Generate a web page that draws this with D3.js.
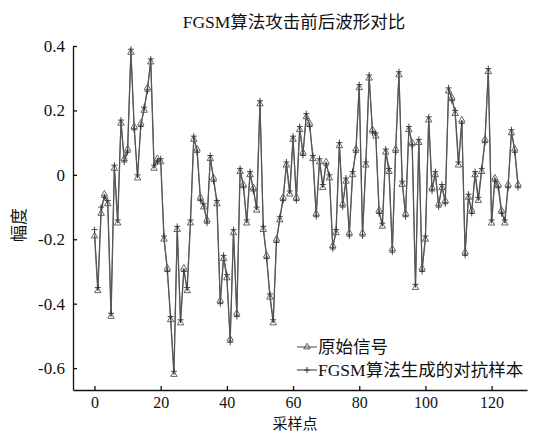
<!DOCTYPE html>
<html>
<head>
<meta charset="utf-8">
<script src="https://cdn.jsdelivr.net/npm/d3@7"></script>
<style>
  body { margin: 0; background: #fff; }
  svg { display: block; }
  text { font-family: "Liberation Serif", "Noto Sans CJK SC", serif; fill: #111; }
</style>
</head>
<body>
<div id="chart"></div>
<script>
const title = 'FGSM算法攻击前后波形对比';
const xLabel = '采样点';
const yLabel = '幅度';
const seriesNames = ['原始信号', 'FGSM算法生成的对抗样本'];
const xTicks = [0, 20, 40, 60, 80, 100, 120];
const yTicks = [0.4, 0.2, 0, -0.2, -0.4, -0.6];

// amplitude, one value per sample
const original = [
  -0.19, -0.36, -0.12, -0.06, -0.09, -0.44, 0.02, -0.15, 0.16, 0.05,
  0.08, 0.38, 0.15, -0.01, 0.16, 0.20, 0.27, 0.35, 0.02, 0.05,
  0.04, -0.20, -0.29, -0.45, -0.62, -0.17, -0.46, -0.29, -0.36, -0.15,
  0.11, 0.08, -0.07, -0.10, -0.14, 0.05, -0.01, -0.09, -0.39, -0.26,
  -0.32, -0.51, -0.18, -0.43, 0.01, -0.03, -0.15, 0.00, -0.04, -0.11,
  0.22, -0.17, -0.25, -0.38, -0.46, -0.20, -0.14, -0.07, 0.03, -0.06,
  0.11, -0.07, 0.14, 0.07, 0.18, 0.16, 0.05, -0.12, 0.04, -0.04,
  0.04, -0.01, -0.22, -0.18, 0.09, -0.09, -0.02, -0.18, 0.00, 0.08,
  0.27, -0.18, 0.03, 0.30, 0.14, 0.12, -0.11, -0.16, 0.07, 0.01,
  -0.23, 0.08, 0.31, -0.03, -0.12, 0.14, 0.10, -0.35, 0.10, -0.29,
  -0.20, 0.17, -0.04, 0.00, -0.09, -0.04, -0.08, 0.26, 0.24, 0.19,
  0.03, 0.17, -0.24, -0.07, -0.11, 0.00, -0.08, 0.01, 0.11, 0.32,
  -0.15, -0.01, -0.03, -0.11, -0.15, -0.03, 0.13, 0.08, -0.03
];

const adversarial = [
  -0.17, -0.35, -0.10, -0.07, -0.08, -0.43, 0.03, -0.14, 0.17, 0.04,
  0.07, 0.39, 0.14, 0.00, 0.15, 0.21, 0.26, 0.36, 0.03, 0.04,
  0.05, -0.19, -0.30, -0.44, -0.61, -0.16, -0.45, -0.30, -0.35, -0.14,
  0.12, 0.07, -0.08, -0.09, -0.15, 0.06, -0.02, -0.08, -0.40, -0.25,
  -0.31, -0.52, -0.17, -0.44, 0.02, -0.04, -0.14, 0.01, -0.05, -0.10,
  0.23, -0.16, -0.26, -0.37, -0.45, -0.21, -0.13, -0.08, 0.04, -0.05,
  0.12, -0.08, 0.15, 0.06, 0.19, 0.15, 0.06, -0.13, 0.05, -0.03,
  0.03, 0.00, -0.23, -0.17, 0.10, -0.10, -0.01, -0.19, 0.01, 0.07,
  0.28, -0.19, 0.04, 0.31, 0.13, 0.13, -0.12, -0.15, 0.08, 0.02,
  -0.24, 0.07, 0.32, -0.02, -0.13, 0.15, 0.09, -0.34, 0.11, -0.30,
  -0.19, 0.18, -0.05, 0.01, -0.10, -0.03, -0.09, 0.27, 0.23, 0.20,
  0.04, 0.16, -0.25, -0.06, -0.12, 0.01, -0.07, 0.02, 0.10, 0.33,
  -0.14, -0.02, -0.04, -0.12, -0.14, -0.04, 0.14, 0.07, -0.04
];

const width = 541;
const height = 433;
const margin = { left: 73, right: 527, top: 46, bottom: 390 };

const svg = d3.select('#chart')
  .append('svg')
  .attr('width', width)
  .attr('height', height);

const x = d3.scaleLinear().domain([-6.5, 130.7]).range([margin.left, margin.right]);
const y = d3.scaleLinear().domain([-0.668, 0.4]).range([margin.bottom, margin.top]);

svg.append('text')
  .attr('x', 294)
  .attr('y', 28)
  .attr('text-anchor', 'middle')
  .style('font-size', '17.5px')
  .text(title);

const fmt = d => (d === 0 ? '0' : d.toFixed(1));

svg.append('g')
  .attr('transform', `translate(0, ${margin.bottom})`)
  .call(d3.axisBottom(x).tickValues(xTicks).tickSizeInner(-4).tickSizeOuter(0).tickPadding(7))
  .call(g => g.selectAll('path, line').attr('stroke', '#111').attr('stroke-width', 1.3))
  .call(g => g.selectAll('.tick text').attr('fill', '#111')
    .style('font-family', '"Liberation Serif", serif').style('font-size', '16px'));

svg.append('g')
  .attr('transform', `translate(${margin.left}, 0)`)
  .call(d3.axisLeft(y).tickValues(yTicks).tickFormat(fmt).tickSizeInner(-4).tickSizeOuter(0).tickPadding(8))
  .call(g => g.selectAll('path, line').attr('stroke', '#111').attr('stroke-width', 1.3))
  .call(g => g.selectAll('.tick text').attr('fill', '#111')
    .style('font-family', '"Liberation Serif", serif').style('font-size', '17px'));

svg.append('text')
  .attr('x', 295)
  .attr('y', 429)
  .attr('text-anchor', 'middle')
  .style('font-size', '15px')
  .text(xLabel);

svg.append('text')
  .attr('transform', 'translate(25, 225) rotate(-90)')
  .attr('text-anchor', 'middle')
  .style('font-size', '17px')
  .text(yLabel);

const line = d3.line().x((d, i) => x(i)).y(d => y(d));

const triangle = d3.symbol().type(d3.symbolTriangle).size(18);

const plot = svg.append('g');

plot.append('path')
  .datum(original)
  .attr('fill', 'none')
  .attr('stroke', '#666')
  .attr('stroke-width', 1.3)
  .attr('d', line);

plot.append('path')
  .datum(adversarial)
  .attr('fill', 'none')
  .attr('stroke', '#555')
  .attr('stroke-width', 1)
  .attr('d', line);

plot.selectAll('.tri')
  .data(original)
  .join('path')
  .attr('class', 'tri')
  .attr('transform', (d, i) => `translate(${x(i)}, ${y(d)})`)
  .attr('d', triangle)
  .attr('fill', 'none')
  .attr('stroke', '#555')
  .attr('stroke-width', 0.9);

plot.selectAll('.plus')
  .data(adversarial)
  .join('path')
  .attr('class', 'plus')
  .attr('transform', (d, i) => `translate(${x(i)}, ${y(d)})`)
  .attr('d', 'M-3,0H3M0,-3V3')
  .attr('stroke', '#333')
  .attr('stroke-width', 0.9);

// legend
const legend = svg.append('g').attr('transform', 'translate(297, 347)');

legend.append('line')
  .attr('x1', 0).attr('x2', 20).attr('y1', 0).attr('y2', 0)
  .attr('stroke', '#666').attr('stroke-width', 1.2);
legend.append('path')
  .attr('transform', 'translate(10, 0)')
  .attr('d', triangle)
  .attr('fill', 'none')
  .attr('stroke', '#555');
legend.append('text')
  .attr('x', 21).attr('y', 6)
  .style('font-size', '17.5px')
  .text(seriesNames[0]);

legend.append('line')
  .attr('x1', 0).attr('x2', 20).attr('y1', 23).attr('y2', 23)
  .attr('stroke', '#555').attr('stroke-width', 1.2);
legend.append('path')
  .attr('transform', 'translate(10, 23)')
  .attr('d', 'M-3,0H3M0,-3V3')
  .attr('stroke', '#333');
legend.append('text')
  .attr('x', 21).attr('y', 29)
  .style('font-size', '17.5px')
  .text(seriesNames[1]);
</script>
</body>
</html>
